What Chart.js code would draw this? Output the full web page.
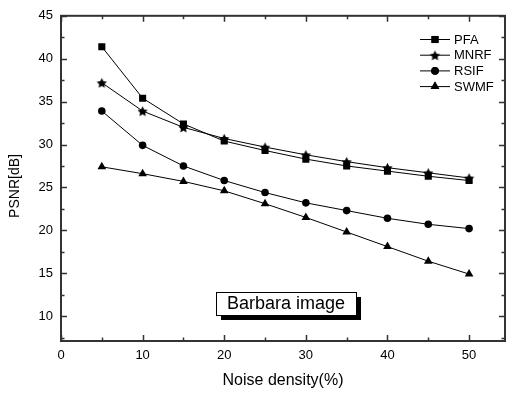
<!DOCTYPE html>
<html>
<head>
<meta charset="utf-8">
<script src="https://cdn.jsdelivr.net/npm/chart.js@4.4.0/dist/chart.umd.min.js"></script>
<style>
  html, body { margin: 0; padding: 0; background: #fff; }
  #wrap { width: 510px; height: 393px; }
</style>
</head>
<body>
<div id="wrap"><canvas id="grafico" width="510" height="393"></canvas></div>
<script>
// datos
const densidadRuido = [5, 10, 15, 20, 25, 30, 35, 40, 45, 50];
const nombresSeries = ["PFA", "MNRF", "RSIF", "SWMF"];
const psnrPFA = [41.4, 35.4, 32.4, 30.4, 29.3, 28.3, 27.5, 26.9, 26.3, 25.8];
const psnrMNRF = [37.2, 33.9, 32.0, 30.7, 29.7, 28.8, 28.0, 27.3, 26.7, 26.1];
const psnrRSIF = [33.9, 29.9, 27.5, 25.8, 24.4, 23.2, 22.3, 21.4, 20.7, 20.2];
const psnrSWMF = [27.4, 26.6, 25.7, 24.6, 23.1, 21.5, 19.8, 18.1, 16.4, 14.9];
const ticksX = [0, 10, 20, 30, 40, 50];
const ticksY = [10, 15, 20, 25, 30, 35, 40, 45];
const tituloImagen = "Barbara image";
const tituloY = "PSNR[dB]";
const tituloX = "Noise density(%)";

const familia = "'Liberation Sans', Arial, sans-serif";

// estrella rellena de 5 puntas como imagen para pointStyle
function crearEstrella(r) {
  const c = document.createElement("canvas");
  const s = Math.ceil(r * 2 + 2);
  c.width = s;
  c.height = s;
  const g = c.getContext("2d");
  g.fillStyle = "#000";
  g.beginPath();
  for (let i = 0; i < 10; i++) {
    const rad = i % 2 === 0 ? r : r * 0.5;
    const a = -Math.PI / 2 + i * Math.PI / 5;
    const px = s / 2 + rad * Math.cos(a);
    const py = s / 2 + 0.6 + rad * Math.sin(a);
    if (i === 0) g.moveTo(px, py); else g.lineTo(px, py);
  }
  g.closePath();
  g.fill();
  return c;
}
const estrella = crearEstrella(5.4);

function serie(label, valores, estilo, radio) {
  return {
    label: label,
    data: densidadRuido.map((x, i) => ({ x: x, y: valores[i] })),
    borderColor: "#000",
    backgroundColor: "#000",
    borderWidth: 1,
    pointStyle: estilo,
    pointRadius: radio,
    pointBorderWidth: 0,
    pointBackgroundColor: "#000",
    pointHoverRadius: radio,
    tension: 0,
  };
}

const datasets = [
  serie(nombresSeries[0], psnrPFA, "rect", 5),
  serie(nombresSeries[1], psnrMNRF, estrella, 5),
  serie(nombresSeries[2], psnrRSIF, "circle", 3.8),
  serie(nombresSeries[3], psnrSWMF, "triangle", 5),
];

// marco, marcas de los ejes, leyenda, titulo Y y recuadro
const pluginMarco = {
  id: "marco",
  afterDraw(chart) {
    const ctx = chart.ctx;
    const a = chart.chartArea;
    const sx = chart.scales.x;
    const sy = chart.scales.y;
    ctx.save();
    ctx.strokeStyle = "#333";
    ctx.lineWidth = 2;
    ctx.strokeRect(a.left, a.top, a.right - a.left, a.bottom - a.top);

    ctx.lineWidth = 1.5;
    ctx.beginPath();
    for (let v = 0; v <= sx.max; v += 5) {
      const px = Math.round(sx.getPixelForValue(v)) + 0.5;
      const len = v % 10 === 0 ? 6 : 3.5;
      ctx.moveTo(px, a.bottom); ctx.lineTo(px, a.bottom - len);
      ctx.moveTo(px, a.top); ctx.lineTo(px, a.top + len);
    }
    for (let v = 7.5; v <= sy.max; v += 2.5) {
      const py = Math.round(sy.getPixelForValue(v)) + 0.5;
      const len = v % 5 === 0 ? 6 : 3.5;
      ctx.moveTo(a.left, py); ctx.lineTo(a.left + len, py);
      ctx.moveTo(a.right, py); ctx.lineTo(a.right - len, py);
    }
    ctx.stroke();

    // titulo del eje Y
    ctx.fillStyle = "#000";
    ctx.font = "14px " + familia;
    ctx.textAlign = "center";
    ctx.textBaseline = "middle";
    ctx.save();
    ctx.translate(15, 186);
    ctx.rotate(-Math.PI / 2);
    ctx.fillText(tituloY, 0, 0);
    ctx.restore();

    // leyenda
    ctx.font = "13px " + familia;
    ctx.textAlign = "left";
    chart.data.datasets.forEach((ds, i) => {
      const y = 39 + i * 15.7;
      ctx.strokeStyle = "#000";
      ctx.lineWidth = 1;
      ctx.beginPath();
      ctx.moveTo(420, y + 0.5);
      ctx.lineTo(450, y + 0.5);
      ctx.stroke();
      ctx.beginPath();
      Chart.helpers.drawPoint(ctx, {
        pointStyle: ds.pointStyle,
        radius: ds.pointRadius,
        rotation: 0,
        borderWidth: 0,
      }, 435, y + 0.5);
      ctx.fillStyle = "#000";
      ctx.fill();
      ctx.fillText(ds.label, 454, y + 1);
    });

    // recuadro "Barbara image" con sombra
    const bx = 216, by = 292, bw = 140, bh = 23;
    ctx.fillStyle = "#000";
    ctx.fillRect(bx + 5, by + 5, bw, bh);
    ctx.fillStyle = "#fff";
    ctx.fillRect(bx, by, bw, bh);
    ctx.strokeStyle = "#000";
    ctx.lineWidth = 1;
    ctx.strokeRect(bx + 0.5, by + 0.5, bw, bh);
    ctx.fillStyle = "#000";
    ctx.font = "18px " + familia;
    ctx.textAlign = "center";
    ctx.fillText(tituloImagen, bx + bw / 2, by + bh / 2 + 1);
    ctx.restore();
  },
};

const fuente = { family: familia, size: 13 };

const config = {
  type: "line",
  data: { datasets: datasets },
  options: {
    responsive: false,
    animation: false,
    layout: { padding: { top: 15, right: 4, left: 0, bottom: 0 } },
    plugins: { legend: { display: false }, tooltip: { enabled: false } },
    scales: {
      x: {
        type: "linear",
        min: 0,
        max: 54.4,
        grid: { display: false, drawTicks: false },
        border: { display: false },
        ticks: { color: "#000", font: fuente, padding: 7, maxRotation: 0 },
        afterBuildTicks: (s) => { s.ticks = ticksX.map((v) => ({ value: v })); },
        afterFit: (s) => { s.height = 52; },
        title: { display: true, text: tituloX, color: "#000", font: { family: familia, size: 16 }, padding: { top: 0, bottom: 3 } },
      },
      y: {
        type: "linear",
        min: 7.1,
        max: 45,
        grid: { display: false, drawTicks: false },
        border: { display: false },
        ticks: { color: "#000", font: fuente, padding: 8 },
        afterBuildTicks: (s) => { s.ticks = ticksY.map((v) => ({ value: v })); },
        afterFit: (s) => { s.width = 61; },
      },
    },
  },
  plugins: [pluginMarco],
};

const ctx = document.getElementById("grafico").getContext("2d");
new Chart(ctx, config);
</script>
</body>
</html>
